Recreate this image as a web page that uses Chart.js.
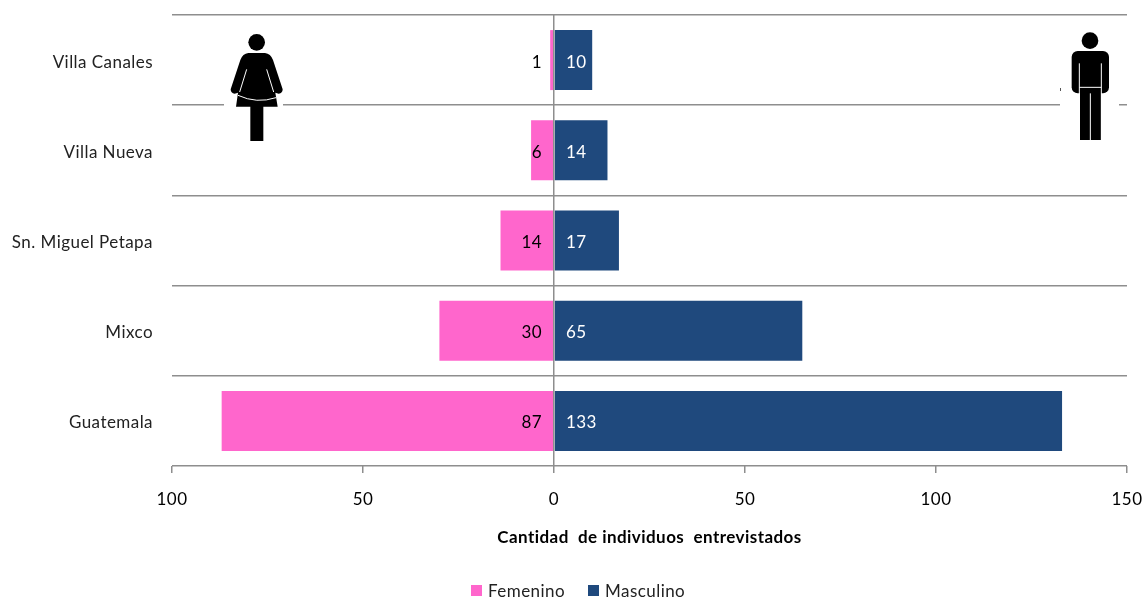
<!DOCTYPE html>
<html>
<head>
<meta charset="utf-8">
<style>
  html, body { margin: 0; padding: 0; background: #fff; }
  #wrap { width: 1145px; height: 600px; }
</style>
<script src="https://cdn.jsdelivr.net/npm/chart.js@4"></script>
</head>
<body>
<div id="wrap"><canvas id="myChart"></canvas></div>
<script>
const municipios = ['Villa Canales', 'Villa Nueva', 'Sn. Miguel Petapa', 'Mixco', 'Guatemala'];
const femenino = [1, 6, 14, 30, 87];
const masculino = [10, 14, 17, 65, 133];

const fuente = 'Lato, sans-serif';
const gris = '#8e8e8e';

// el texto original sale mas espaciado
const espaciado = {
    id: 'espaciado',
    beforeLayout(chart) { chart.ctx.letterSpacing = '0.45px'; },
    beforeDraw(chart) { chart.ctx.letterSpacing = '0.45px'; }
};

// etiquetas de valores pegadas al eje central
const etiquetas = {
    id: 'etiquetas',
    afterDatasetsDraw(chart) {
        const ctx = chart.ctx;
        const cero = chart.scales.x.getPixelForValue(0);
        ctx.save();
        ctx.font = '17px ' + fuente;
        ctx.textBaseline = 'middle';
        chart.getDatasetMeta(0).data.forEach((bar, i) => {
            ctx.fillStyle = '#000';
            ctx.textAlign = 'right';
            ctx.fillText(femenino[i], cero - 12, bar.y + 2);
        });
        chart.getDatasetMeta(1).data.forEach((bar, i) => {
            ctx.fillStyle = '#fff';
            ctx.textAlign = 'left';
            ctx.fillText(masculino[i], cero + 12, bar.y + 2);
        });
        ctx.restore();
    }
};

// leyenda abajo, cuadros pequenos como en el original
const leyenda = {
    id: 'leyenda',
    afterDraw(chart) {
        const ctx = chart.ctx;
        const inicios = [471, 588];
        ctx.save();
        ctx.font = '17px ' + fuente;
        ctx.textAlign = 'left';
        ctx.textBaseline = 'middle';
        chart.data.datasets.forEach((d, i) => {
            ctx.fillStyle = d.backgroundColor;
            ctx.fillRect(inicios[i], 585, 11, 11);
            ctx.fillStyle = '#222';
            ctx.fillText(d.label, inicios[i] + 17, 592);
        });
        ctx.restore();
    }
};

// figuras de mujer y hombre encima del grafico
const figuras = {
    id: 'figuras',
    afterDraw(chart) {
        const ctx = chart.ctx;
        ctx.save();

        // mujer
        ctx.fillStyle = '#fff';
        ctx.fillRect(224, 30, 59, 115);
        ctx.save();
        ctx.translate(200, 10);
        ctx.scale(1 / 3, 1 / 3);
        ctx.fillStyle = '#000';
        ctx.beginPath();
        ctx.arc(170, 97, 25, 0, Math.PI * 2);
        ctx.fill();
        ctx.beginPath();
        ctx.moveTo(145, 129);
        ctx.lineTo(195, 129);
        ctx.quadraticCurveTo(212, 131, 219, 150);
        ctx.lineTo(248, 238);
        ctx.quadraticCurveTo(248, 250, 236, 251);
        ctx.lineTo(226, 248);
        ctx.lineTo(233, 290);
        ctx.lineTo(108, 290);
        ctx.lineTo(114, 248);
        ctx.lineTo(104, 251);
        ctx.quadraticCurveTo(92, 250, 92, 238);
        ctx.lineTo(121, 150);
        ctx.quadraticCurveTo(128, 131, 145, 129);
        ctx.closePath();
        ctx.fill();
        ctx.fillRect(151, 288, 39, 105);
        ctx.strokeStyle = '#fff';
        ctx.lineWidth = 3;
        ctx.beginPath();
        ctx.moveTo(140, 178);
        ctx.lineTo(119, 246);
        ctx.moveTo(200, 178);
        ctx.lineTo(221, 246);
        ctx.moveTo(114, 256);
        ctx.quadraticCurveTo(170, 282, 228, 263);
        ctx.stroke();
        ctx.restore();

        // hombre
        ctx.fillStyle = '#fff';
        ctx.fillRect(1060, 30, 59, 115);
        ctx.fillStyle = '#555';
        ctx.fillRect(1060, 88, 1, 3);
        ctx.save();
        ctx.translate(1030, 10);
        ctx.scale(1 / 3, 1 / 3);
        ctx.fillStyle = '#000';
        ctx.beginPath();
        ctx.arc(180, 92, 25, 0, Math.PI * 2);
        ctx.fill();
        ctx.beginPath();
        ctx.roundRect(125, 123, 112, 127, 18);
        ctx.fill();
        ctx.fillRect(150, 235, 63, 155);
        ctx.strokeStyle = '#fff';
        ctx.lineWidth = 3;
        ctx.beginPath();
        ctx.moveTo(148, 160);
        ctx.lineTo(148, 392);
        ctx.moveTo(214, 160);
        ctx.lineTo(214, 392);
        ctx.moveTo(148, 232);
        ctx.lineTo(214, 232);
        ctx.moveTo(181, 250);
        ctx.lineTo(181, 392);
        ctx.stroke();
        ctx.restore();

        ctx.restore();
    }
};

new Chart(document.getElementById('myChart').getContext('2d'), {
    type: 'bar',
    data: {
        labels: municipios,
        datasets: [
            { label: 'Femenino', data: femenino.map(v => -v), backgroundColor: '#FF66CC' },
            { label: 'Masculino', data: masculino, backgroundColor: '#1F497D' }
        ]
    },
    plugins: [espaciado, etiquetas, leyenda, figuras],
    options: {
        indexAxis: 'y',
        responsive: true,
        maintainAspectRatio: false,
        animation: false,
        barPercentage: 0.665,
        categoryPercentage: 1,
        layout: { padding: { top: 15, right: 18, bottom: 0, left: 0 } },
        plugins: {
            tooltip: { enabled: false },
            legend: { display: false }
        },
        scales: {
            x: {
                stacked: true,
                min: -100,
                max: 150,
                afterFit(scale) {
                    scale.height = 134;
                    scale.paddingLeft = 0;
                    scale.paddingRight = 0;
                },
                ticks: {
                    stepSize: 50,
                    maxRotation: 0,
                    color: '#000',
                    padding: 16,
                    font: { family: fuente, size: 17 },
                    callback: v => Math.abs(v)
                },
                border: { display: false },
                grid: {
                    color: c => c.tick && c.tick.value === 0 ? gris : 'transparent',
                    tickColor: gris,
                    tickLength: 7,
                    lineWidth: 1.5,
                    z: 1
                },
                title: {
                    display: true,
                    text: 'Cantidad  de individuos  entrevistados',
                    color: '#000',
                    padding: { top: 12, bottom: 52 },
                    font: { family: fuente, size: 17, weight: 'bold' }
                }
            },
            y: {
                stacked: true,
                afterFit(scale) {
                    scale.width = 172;
                    scale.paddingTop = 0;
                    scale.paddingBottom = 0;
                },
                ticks: {
                    color: '#222',
                    padding: 19,
                    labelOffset: 2,
                    font: { family: fuente, size: 17 }
                },
                border: { display: false },
                grid: {
                    color: gris,
                    lineWidth: 1.5,
                    offset: true,
                    drawTicks: false
                }
            }
        }
    }
});
</script>
</body>
</html>
